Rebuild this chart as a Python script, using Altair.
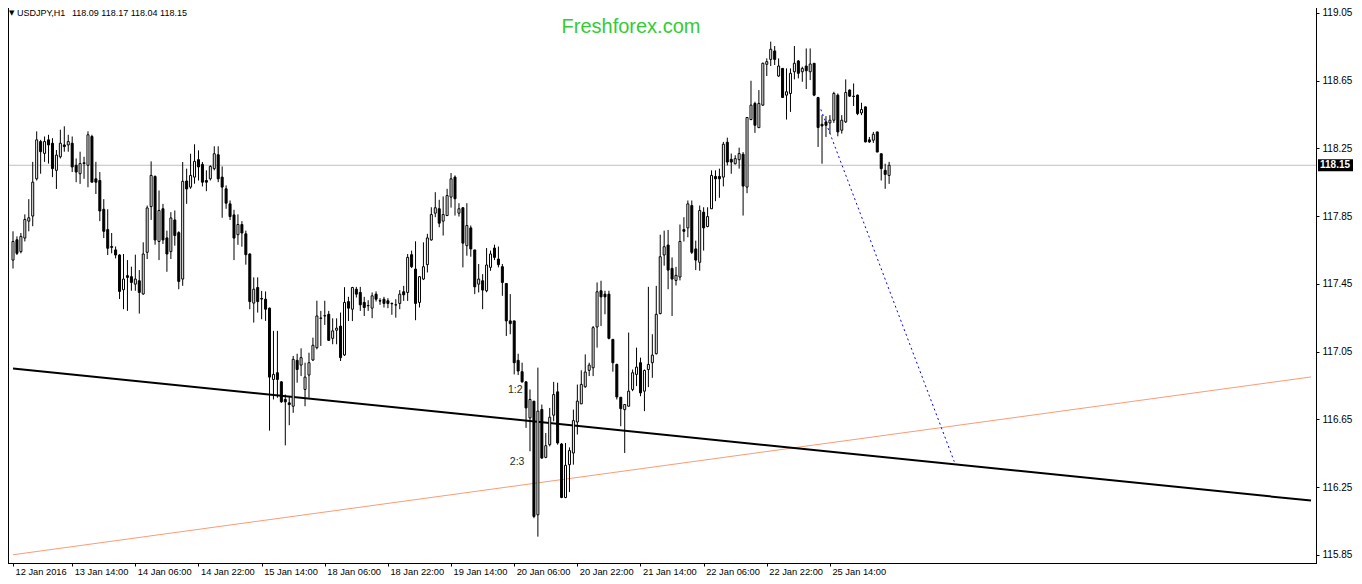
import altair as alt
import pandas as pd

# ---- hourly USDJPY candles (bar 0 = 12 Jan 2016 23:00) ----
opens = [
    117.59, 117.71, 117.64, 117.72, 117.82, 117.85, 118.07, 118.29, 118.22, 118.30,
    118.28, 118.12, 118.20, 118.27, 118.27, 118.28, 118.15, 118.10, 118.16, 118.15,
    118.32, 118.07, 118.06, 117.89, 117.77, 117.67, 117.65, 117.62, 117.415, 117.498,
    117.492, 117.448, 117.468, 117.39, 117.636, 117.906, 118.084, 117.70, 117.893, 117.721,
    117.64, 117.827, 117.752, 117.478, 118.057, 118.021, 118.08, 118.183, 118.155, 118.06,
    118.07, 118.13, 118.212, 118.08, 118.011, 117.922, 117.857, 117.74, 117.80, 117.745,
    117.626, 117.336, 117.428, 117.363, 117.359, 117.306, 116.885, 116.925, 116.871, 116.767,
    116.747, 116.727, 116.998, 116.970, 116.826, 116.911, 117.0, 117.073, 117.246, 117.26,
    117.27, 117.128, 117.176, 117.20, 117.03, 117.345, 117.30, 117.418, 117.399, 117.34,
    117.32, 117.306, 117.389, 117.35, 117.359, 117.35, 117.334, 117.326, 117.334, 117.403,
    117.399, 117.622, 117.537, 117.34, 117.478, 117.563, 117.709, 117.867, 117.893, 117.82,
    117.853, 117.962, 118.08, 117.867, 117.899, 117.675, 117.78, 117.65, 117.448, 117.468,
    117.409, 117.547, 117.661, 117.596, 117.551, 117.452, 117.231, 117.231, 116.998, 116.931,
    116.871, 116.658, 116.757, 116.086, 116.708, 116.425, 116.50, 116.674, 116.812, 116.504,
    116.188, 116.382, 116.451, 116.634, 116.741, 116.842, 116.939, 116.954, 117.195, 117.409,
    117.389, 117.389, 117.122, 116.974, 116.78, 116.707, 116.727, 116.826, 116.915, 116.984,
    116.816, 116.944, 116.984, 117.037, 117.274, 117.62, 117.679, 117.541, 117.47, 117.49,
    117.77, 117.78, 117.912, 117.656, 117.577, 117.873, 117.788, 117.893, 118.084, 118.084,
    118.08, 118.286, 118.185, 118.159, 118.183, 118.215, 118.021, 118.42, 118.515, 118.372,
    118.505, 118.746, 118.775, 118.825, 118.677, 118.722, 118.564, 118.574, 118.702, 118.766,
    118.702, 118.736, 118.702, 118.752, 118.55, 118.392, 118.406, 118.40, 118.416, 118.564,
    118.357, 118.406, 118.594, 118.558, 118.564, 118.459, 118.495, 118.30, 118.298, 118.347,
    118.218, 118.12, 118.09,
]
highs = [
    117.76, 117.73, 117.75, 117.86, 117.95, 118.17, 118.35, 118.30, 118.32, 118.33,
    118.31, 118.24, 118.36, 118.38, 118.33, 118.32, 118.19, 118.23, 118.20, 118.35,
    118.33, 118.17, 118.11, 117.95, 117.89, 117.75, 117.67, 117.625, 117.626, 117.59,
    117.551, 117.622, 117.531, 117.695, 117.912, 118.173, 118.09, 118.001, 117.922, 117.764,
    117.873, 117.883, 117.76, 118.169, 118.13, 118.218, 118.274, 118.238, 118.169, 118.12,
    118.15, 118.262, 118.262, 118.143, 118.031, 117.942, 117.887, 117.86, 117.82, 117.764,
    117.63, 117.488, 117.488, 117.408, 117.405, 117.31, 117.172, 117.172, 116.875, 116.796,
    116.786, 117.024, 117.037, 117.069, 116.984, 117.043, 117.132, 117.35, 117.29, 117.35,
    117.29, 117.246, 117.246, 117.28, 117.43, 117.373, 117.432, 117.432, 117.432, 117.373,
    117.353, 117.399, 117.405, 117.365, 117.373, 117.365, 117.34, 117.359, 117.413, 117.438,
    117.626, 117.646, 117.701, 117.496, 117.695, 117.745, 117.902, 117.991, 117.946, 117.966,
    118.011, 118.104, 118.09, 117.926, 117.902, 117.926, 117.794, 117.65, 117.567, 117.507,
    117.661, 117.646, 117.681, 117.67, 117.567, 117.452, 117.389, 117.231, 117.037, 116.984,
    116.875, 116.826, 116.757, 116.955, 116.737, 116.569, 116.717, 116.871, 116.866, 116.51,
    116.51, 116.484, 116.707, 116.855, 116.939, 117.033, 116.984, 117.201, 117.458, 117.468,
    117.409, 117.409, 117.122, 116.978, 116.78, 116.737, 117.162, 116.944, 117.073, 117.014,
    116.944, 117.432, 117.152, 117.438, 117.74, 117.764, 117.768, 117.606, 117.55, 117.80,
    117.843, 117.942, 117.942, 117.705, 117.912, 117.902, 117.902, 118.12, 118.12, 118.13,
    118.288, 118.313, 118.219, 118.209, 118.254, 118.228, 118.432, 118.649, 118.525, 118.594,
    118.756, 118.781, 118.88, 118.854, 118.781, 118.722, 118.722, 118.722, 118.854, 118.771,
    118.732, 118.84, 118.84, 118.752, 118.554, 118.446, 118.44, 118.446, 118.584, 118.574,
    118.446, 118.657, 118.598, 118.633, 118.568, 118.519, 118.495, 118.317, 118.347, 118.347,
    118.218, 118.159, 118.17,
]
lows = [
    117.54, 117.62, 117.63, 117.70, 117.76, 117.79, 118.06, 118.10, 118.17, 118.16,
    118.08, 118.01, 118.19, 118.23, 118.23, 118.11, 118.05, 118.04, 118.07, 118.02,
    118.05, 117.98, 117.82, 117.72, 117.62, 117.63, 117.60, 117.36, 117.30, 117.29,
    117.409, 117.409, 117.274, 117.385, 117.596, 117.827, 117.681, 117.59, 117.685, 117.521,
    117.596, 117.675, 117.418, 117.438, 117.922, 118.011, 118.041, 118.06, 118.025, 117.997,
    118.06, 118.12, 118.05, 117.84, 117.893, 117.827, 117.59, 117.68, 117.669, 117.563,
    117.30, 117.221, 117.28, 117.241, 117.231, 116.583, 116.767, 116.777, 116.747, 116.496,
    116.615, 116.688, 116.866, 116.905, 116.727, 116.777, 116.994, 117.063, 117.083, 117.207,
    117.112, 117.093, 117.093, 116.994, 117.024, 117.23, 117.23, 117.369, 117.29, 117.26,
    117.29, 117.247, 117.345, 117.326, 117.31, 117.306, 117.267, 117.25, 117.30, 117.349,
    117.349, 117.543, 117.235, 117.31, 117.472, 117.517, 117.705, 117.843, 117.784, 117.735,
    117.85, 117.90, 117.853, 117.847, 117.547, 117.616, 117.61, 117.389, 117.399, 117.30,
    117.40, 117.527, 117.59, 117.547, 117.379, 117.142, 117.152, 116.915, 116.911, 116.866,
    116.599, 116.461, 116.066, 115.957, 116.417, 116.42, 116.49, 116.638, 116.50, 116.184,
    116.184, 116.22, 116.382, 116.56, 116.74, 116.836, 116.905, 116.905, 117.073, 117.201,
    117.27, 117.122, 116.931, 116.767, 116.609, 116.451, 116.727, 116.816, 116.846, 116.786,
    116.698, 116.84, 116.895, 117.033, 117.27, 117.557, 117.418, 117.26, 117.44, 117.47,
    117.70, 117.725, 117.626, 117.531, 117.527, 117.646, 117.784, 117.893, 117.938, 117.958,
    118.025, 118.149, 118.10, 118.155, 118.13, 117.853, 117.985, 118.416, 118.341, 118.37,
    118.50, 118.677, 118.736, 118.742, 118.672, 118.55, 118.42, 118.465, 118.657, 118.663,
    118.643, 118.60, 118.653, 118.558, 118.258, 118.159, 118.317, 118.337, 118.40, 118.321,
    118.337, 118.40, 118.554, 118.50, 118.446, 118.446, 118.285, 118.282, 118.282, 118.228,
    118.06, 118.011, 118.04,
]
closes = [
    117.70, 117.63, 117.73, 117.83, 117.84, 118.05, 118.30, 118.23, 118.29, 118.27,
    118.13, 118.21, 118.28, 118.26, 118.29, 118.14, 118.11, 118.16, 118.165, 118.33,
    118.05, 118.05, 117.88, 117.76, 117.66, 117.665, 117.62, 117.405, 117.478, 117.488,
    117.458, 117.478, 117.399, 117.626, 117.898, 118.09, 117.709, 117.883, 117.709, 117.626,
    117.839, 117.735, 117.464, 118.055, 118.01, 118.09, 118.173, 118.14, 118.05, 118.05,
    118.143, 118.218, 118.07, 118.021, 117.926, 117.847, 117.72, 117.80, 117.75, 117.622,
    117.345, 117.418, 117.345, 117.36, 117.30, 116.899, 116.915, 116.885, 116.753, 116.753,
    116.737, 117.004, 116.944, 117.014, 116.899, 116.984, 117.087, 117.26, 117.248, 117.262,
    117.116, 117.172, 117.188, 117.014, 117.34, 117.306, 117.428, 117.389, 117.326, 117.31,
    117.322, 117.379, 117.359, 117.348, 117.334, 117.334, 117.332, 117.325, 117.389, 117.385,
    117.606, 117.551, 117.334, 117.492, 117.551, 117.721, 117.859, 117.899, 117.808, 117.859,
    117.971, 118.07, 117.952, 117.893, 117.69, 117.794, 117.656, 117.432, 117.478, 117.413,
    117.561, 117.626, 117.606, 117.563, 117.458, 117.231, 117.215, 116.984, 116.935, 116.871,
    116.717, 116.767, 116.076, 116.698, 116.421, 116.494, 116.662, 116.796, 116.51, 116.188,
    116.378, 116.465, 116.642, 116.757, 116.856, 116.929, 116.97, 117.191, 117.403, 117.373,
    117.373, 117.128, 116.984, 116.782, 116.713, 116.737, 116.816, 116.925, 116.958, 116.806,
    116.938, 116.974, 117.029, 117.27, 117.61, 117.669, 117.531, 117.478, 117.50, 117.70,
    117.76, 117.922, 117.636, 117.59, 117.883, 117.78, 117.847, 118.09, 118.07, 118.07,
    118.274, 118.169, 118.169, 118.189, 118.219, 118.027, 118.432, 118.505, 118.386, 118.515,
    118.752, 118.762, 118.835, 118.775, 118.736, 118.55, 118.584, 118.693, 118.752, 118.693,
    118.722, 118.708, 118.748, 118.564, 118.373, 118.382, 118.386, 118.416, 118.574, 118.347,
    118.416, 118.58, 118.558, 118.556, 118.455, 118.479, 118.288, 118.288, 118.333, 118.228,
    118.13, 118.096, 118.15,
]
assert len(opens) == len(highs) == len(lows) == len(closes)

# ---- axis ticks ----
tick_bars = [0, 15, 31, 47, 63, 79, 95, 111, 127, 143, 159, 175, 191, 207]
tick_labels = ["12 Jan 2016", "13 Jan 14:00", "14 Jan 06:00", "14 Jan 22:00", "15 Jan 14:00",
               "18 Jan 06:00", "18 Jan 22:00", "19 Jan 14:00", "20 Jan 06:00", "20 Jan 22:00",
               "21 Jan 14:00", "22 Jan 06:00", "22 Jan 22:00", "25 Jan 14:00"]
price_ticks = [115.85, 116.05, 116.25, 116.45, 116.65, 116.85, 117.05, 117.25,
               117.45, 117.65, 117.85, 118.05, 118.25, 118.45, 118.65, 118.85, 119.05]

# ---- drawn objects ----
trend_black_x = [0, 328.9]
trend_black_y = [116.95, 116.17]
trend_orange_x = [0, 328.9]
trend_orange_y = [115.85, 116.90]
dotted_x = [204.7, 238.5]
dotted_y = [118.48, 116.40]
fib_x = [127.25, 127.75]
fib_y = [116.82, 116.40]
fib_text = ["1:2", "2:3"]
last_price = 118.15
header_symbol = "USDJPY,H1"
header_ohlc = "118.09 118.17 118.04 118.15"
watermark = "Freshforex.com"

W, H = 1308, 551
XDOM = [0, 328.9]
YDOM = [115.8013, 119.055]
FONT = "Liberation Sans"

df = pd.DataFrame({"i": list(range(len(opens))), "open": opens, "high": highs,
                   "low": lows, "close": closes})
df["dir"] = ["up" if c >= o else "down" for o, c in zip(opens, closes)]

label_expr = "".join(f"datum.value == {b} ? '{l}' : " for b, l in zip(tick_bars, tick_labels)) + "''"

xscale = alt.Scale(domain=XDOM, nice=False, zero=False)
yscale = alt.Scale(domain=YDOM, nice=False, zero=False)

x_axis = alt.Axis(values=tick_bars, labelExpr=label_expr, labelAlign="left", labelOffset=2,
                  labelFont=FONT, labelFontSize=9.3, labelColor="black", labelPadding=1,
                  tickSize=3, tickColor="black", domain=False, grid=False, title=None,
                  labelOverlap=False, labelBound=False, labelFlush=False)
y_axis = alt.Axis(orient="right", values=price_ticks, format=".2f", labelFont=FONT,
                  labelFontSize=10, labelColor="black", labelPadding=3, tickSize=3,
                  tickColor="black", domain=False, grid=False, title=None, labelOverlap=False,
                  labelBound=False, labelFlush=False)

base = alt.Chart(df)

wicks = base.mark_rule(color="black", strokeWidth=1, clip=True).encode(
    x=alt.X("i:Q", scale=xscale, axis=x_axis),
    y=alt.Y("low:Q", scale=yscale, axis=y_axis),
    y2="high:Q",
)
bodies = base.mark_bar(width=2, stroke="black", strokeWidth=1, clip=True).encode(
    x=alt.X("i:Q", scale=xscale),
    y=alt.Y("open:Q", scale=yscale),
    y2="close:Q",
    fill=alt.Fill("dir:N", scale=alt.Scale(domain=["up", "down"], range=["white", "black"]),
                  legend=None),
)

price_line = alt.Chart(pd.DataFrame({"p": [last_price]})).mark_rule(
    color="#C0C0C0", strokeWidth=1).encode(y=alt.Y("p:Q", scale=yscale))

black_line = alt.Chart(pd.DataFrame({"x": trend_black_x, "y": trend_black_y})).mark_line(
    color="black", strokeWidth=2, clip=True).encode(
    x=alt.X("x:Q", scale=xscale), y=alt.Y("y:Q", scale=yscale))
orange_line = alt.Chart(pd.DataFrame({"x": trend_orange_x, "y": trend_orange_y})).mark_line(
    color="#FA9C74", strokeWidth=1, clip=True).encode(
    x=alt.X("x:Q", scale=xscale), y=alt.Y("y:Q", scale=yscale))
blue_line = alt.Chart(pd.DataFrame({"x": dotted_x, "y": dotted_y})).mark_line(
    color="#0000FF", strokeWidth=1, strokeDash=[2, 3], clip=True).encode(
    x=alt.X("x:Q", scale=xscale), y=alt.Y("y:Q", scale=yscale))

fib_labels = alt.Chart(pd.DataFrame({"x": fib_x, "y": fib_y, "t": fib_text})).mark_text(
    font=FONT, fontSize=10.5, color="#1E2E1E", align="center",
    baseline="middle").encode(
    x=alt.X("x:Q", scale=xscale), y=alt.Y("y:Q", scale=yscale), text="t:N")

# frame: left, right (both running to the top edge) and bottom; no top line
frame_df = pd.DataFrame({"k": ["frame"]})
frame_left = alt.Chart(frame_df).mark_rule(color="black", strokeWidth=1).encode(
    x=alt.value(0.5), y=alt.value(-4), y2=alt.value(H))
frame_right = alt.Chart(frame_df).mark_rule(color="black", strokeWidth=1).encode(
    x=alt.value(W + 0.5), y=alt.value(-4), y2=alt.value(H))
frame_bottom = alt.Chart(frame_df).mark_rule(color="black", strokeWidth=1).encode(
    x=alt.value(0), x2=alt.value(W + 1), y=alt.value(H + 0.5))

price_box = alt.Chart(pd.DataFrame({"a": [last_price + 0.036], "b": [last_price - 0.036]})).mark_rect(
    color="black").encode(
    x=alt.value(W + 2), x2=alt.value(W + 37),
    y=alt.Y("a:Q", scale=yscale), y2="b:Q")
price_text = alt.Chart(pd.DataFrame({"p": [last_price], "t": [f"{last_price:.2f}"]})).mark_text(
    font=FONT, fontSize=10, fontWeight="bold", color="white", align="left",
    baseline="middle").encode(
    x=alt.value(W + 4), y=alt.Y("p:Q", scale=yscale), text="t:N")

hdr_tri = alt.Chart(pd.DataFrame({"t": ["▼"]})).mark_text(
    font="DejaVu Sans", fontSize=7, color="black", align="left", baseline="middle").encode(
    x=alt.value(1), y=alt.value(1), text="t:N")
hdr_sym = alt.Chart(pd.DataFrame({"t": [header_symbol]})).mark_text(
    font=FONT, fontSize=9, color="black", align="left", baseline="middle").encode(
    x=alt.value(9), y=alt.value(1), text="t:N")
hdr_ohlc = alt.Chart(pd.DataFrame({"t": [header_ohlc]})).mark_text(
    font=FONT, fontSize=9, color="black", align="left", baseline="middle").encode(
    x=alt.value(64), y=alt.value(1), text="t:N")
wm = alt.Chart(pd.DataFrame({"t": [watermark]})).mark_text(
    font=FONT, fontSize=20, color="#33CC33", align="center",
    baseline="middle").encode(
    x=alt.value(623), y=alt.value(15), text="t:N")

chart = alt.layer(
    price_line, orange_line, black_line, blue_line, wicks, bodies, fib_labels,
    frame_left, frame_right, frame_bottom,
    price_box, price_text, hdr_tri, hdr_sym, hdr_ohlc, wm,
).properties(
    width=W, height=H, background="white",
    padding={"left": 0, "top": 4, "right": 38, "bottom": 16},
    autosize=alt.AutoSizeParams(type="none"),
).configure_view(
    strokeWidth=0
)

chart.save("out.html", embed_options={"renderer": "svg", "actions": False})
